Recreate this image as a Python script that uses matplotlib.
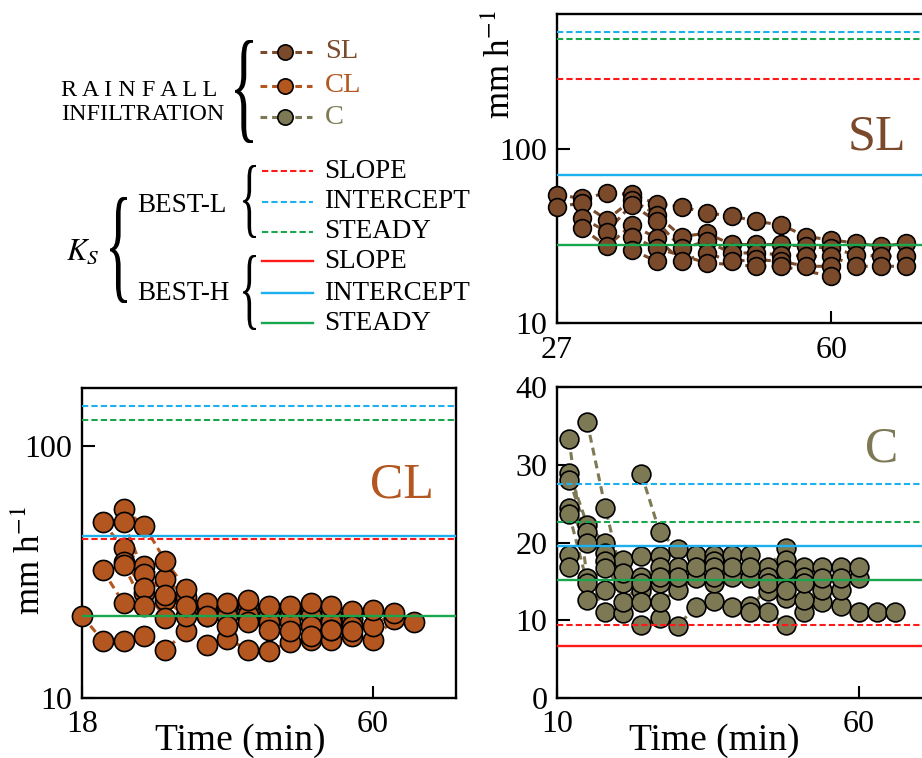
import matplotlib
matplotlib.use("Agg")
import matplotlib.pyplot as plt
from matplotlib.textpath import TextPath
from matplotlib.font_manager import FontProperties
from matplotlib.patches import PathPatch
from matplotlib.transforms import Affine2D
from matplotlib.ticker import NullLocator

plt.rcParams["font.family"] = ["Liberation Serif", "DejaVu Serif"]
plt.rcParams["mathtext.fontset"] = "stix"

# ---- data ----
SL_COLOR = "#7a4a2b"
CL_COLOR = "#b3561f"
C_COLOR = "#7e7955"

ks_names = ["SLOPE", "INTERCEPT", "STEADY"]
ks_colors = ["#ff1a1a", "#1cb0ee", "#1aa64f"]

# SL (sandy loam), mm/h
sl_t = [
    [27, 30, 33, 36, 39, 42, 45, 48, 51, 54, 57, 60, 63, 66, 69],
    [27, 30, 33, 36, 39, 42, 45, 48, 51, 54, 57, 60, 63, 66, 69],
    [30, 33, 36, 39, 42, 45, 48, 51, 54, 57, 60, 63, 66, 69],
    [30, 33, 36, 39, 42, 45, 48, 51, 54, 57, 60],
    [36, 39, 45, 51, 54, 60],
    [36, 39],
]
sl_v = [
    [54.6, 52.2, 55.8, 55.0, 48.5, 46.8, 42.9, 41.4, 38.4, 36.7, 31.4, 30.1, 28.8, 27.6, 28.8],
    [46.8, 48.9, 39.3, 51.0, 42.0, 31.4, 32.9, 28.3, 28.3, 28.3, 27.6, 26.9, 24.7, 24.2, 24.2],
    [40.1, 33.6, 48.0, 38.4, 26.9, 29.5, 25.3, 25.3, 24.7, 24.2, 24.2, 21.2, 21.2, 21.2],
    [35.1, 27.6, 36.7, 30.8, 22.6, 25.3, 22.6, 23.2, 22.6, 21.2, 21.2],
    [31.4, 26.9, 22.2, 21.2, 21.2, 18.6],
    [26.4, 22.6],
]
sl_best_l = [252, 470, 428]
sl_best_h = [None, 71, 28]

# CL (clay loam)
cl_t = [
    [18, 21, 24, 27, 30, 33, 36, 39, 42, 45, 48, 51, 54, 57, 60, 63, 66],
    [21, 24, 27, 30, 33, 36, 39, 42, 45, 48, 51, 54, 57, 60, 63],
    [21, 24, 27, 30, 33, 36, 39, 42, 45, 48, 51, 54, 57, 60],
    [24, 27, 30, 33, 36, 39, 42, 45, 48, 51, 54, 57],
    [24, 27, 30, 33, 36, 39, 42, 45, 48, 51, 54, 57],
    [24, 27, 30],
    [24, 27],
    [51, 54, 57],
]
cl_v = [
    [21.2, 16.9, 16.9, 17.7, 15.5, 18.4, 16.3, 17.2, 15.5, 15.4, 16.7, 17.0, 17.0, 17.6, 17.0, 20.5, 20.0],
    [49.8, 39.3, 33.3, 29.7, 25.2, 22.7, 22.7, 23.1, 21.4, 22.2, 22.4, 21.4, 21.4, 19.3, 21.8],
    [32.1, 23.8, 26.1, 24.5, 21.1, 21.1, 21.1, 21.4, 20.1, 20.1, 21.1, 20.1, 20.5, 22.4],
    [56.2, 48.3, 35.1, 27.2, 23.8, 23.8, 24.6, 23.1, 23.1, 23.8, 23.1, 22.2],
    [49.8, 31.2, 25.7, 23.1, 21.1, 19.3, 20.1, 18.7, 18.4, 19.3, 18.7, 19.3],
    [34.8, 27.3, 20.7],
    [33.8, 23.1],
    [17.7, 18.7, 18.4],
]
cl_best_l = [42.8, 143.6, 126.4]
cl_best_h = [None, 43.8, 21.2]

# C (clay)
c_t = [
    [12, 15, 18, 21, 24, 27, 30, 33, 36, 39, 42, 45, 48, 51, 54, 57, 60, 63, 66],
    [15, 18, 21, 24, 27, 30, 33, 36, 39, 42, 45, 48, 51, 54, 57, 60],
    [24, 27, 30, 33, 36, 39, 42, 45, 48, 51, 54, 57, 60],
    [12, 15, 18, 21, 24, 27, 30, 33, 36, 39, 42, 45, 48, 51, 54, 57],
    [12, 15, 18, 21, 24, 27, 30],
    [12, 15, 18, 21, 24, 27],
    [12, 15, 18],
    [12, 15, 18],
    [12],
    [24, 27],
    [36, 36],
    [42, 45, 48, 51],
    [48, 48],
]
c_v = [
    [33.3, 15.4, 11.0, 10.9, 9.4, 10.3, 9.3, 11.7, 12.5, 11.7, 11.8, 11.0, 9.4, 11.0, 12.4, 11.8, 11.0, 11.0, 11.0],
    [35.5, 24.5, 14.8, 13.7, 12.4, 13.9, 15.4, 14.8, 15.6, 15.4, 13.7, 12.8, 12.6, 13.9, 13.9, 15.4],
    [28.8, 21.4, 19.1, 18.4, 18.4, 18.4, 18.4, 16.9, 19.3, 16.9, 16.9, 16.9, 16.9],
    [29.0, 22.3, 19.9, 17.8, 18.2, 18.2, 16.9, 16.9, 17.6, 16.9, 16.9, 15.6, 17.8, 15.6, 15.4, 15.4],
    [28.1, 21.4, 18.6, 16.1, 15.6, 16.9, 15.6],
    [24.5, 19.9, 17.6, 12.4, 14.8, 14.8],
    [23.7, 14.8, 16.7],
    [18.4, 12.6, 13.9],
    [16.9],
    [12.4, 15.6],
    [16.9, 15.6],
    [11.1, 14.8, 14.8, 14.8],
    [16.5, 13.9],
]
c_best_l = [9.4, 27.5, 22.7]
c_best_h = [6.7, 19.5, 15.2]

rain_labels = ["SL", "CL", "C"]
rain_colors = [SL_COLOR, CL_COLOR, C_COLOR]

W, H = 922, 758
fig = plt.figure(figsize=(W / 100, H / 100), dpi=100)


def px_axes(left, top, right, bottom, **kw):
    return fig.add_axes([left / W, 1 - bottom / H, (right - left) / W, (bottom - top) / H], **kw)


def draw_panel(ax, ts, vs, color, ms, best_l, best_h):
    for t, v in zip(ts, vs):
        ax.plot(t, v, color=color, lw=2.2, ls=(0, (2.6, 1.7)), zorder=2)
    for t, v in zip(ts, vs):
        ax.plot(t, v, ls="none", marker="o", ms=ms, mfc=color, mec="black",
                mew=1.2, zorder=3, clip_on=False)
    for val, c in zip(best_l, ks_colors):
        if val is not None:
            ax.axhline(val, color=c, lw=1.5, ls=(0, (3, 1.5)), zorder=4)
    for val, c in zip(best_h, ks_colors):
        if val is not None:
            ax.axhline(val, color=c, lw=1.7, zorder=4)


def style_axes(ax, xticks, yticks):
    ax.set_xticks(xticks)
    ax.set_xticklabels([str(x) for x in xticks])
    ax.set_yticks(yticks)
    ax.set_yticklabels([str(y) for y in yticks])
    ax.xaxis.set_minor_locator(NullLocator())
    ax.yaxis.set_minor_locator(NullLocator())
    ax.tick_params(direction="in", length=9, width=1.5, labelsize=23,
                   top=False, right=False)
    ax.tick_params(axis="x", pad=9)
    ax.tick_params(axis="y", pad=7)
    for s in ax.spines.values():
        s.set_linewidth(1.7)


# SL panel
ax_sl = px_axes(557, 14, 931, 323)
ax_sl.set_yscale("log")
draw_panel(ax_sl, sl_t, sl_v, SL_COLOR, 12.8, sl_best_l, sl_best_h)
ax_sl.set_xlim(27, 72)
ax_sl.set_ylim(10, 600)
style_axes(ax_sl, [27, 60], [10, 100])
ax_sl.text(0.856, 0.60, "SL", transform=ax_sl.transAxes, color=SL_COLOR,
           fontsize=36, ha="center", va="center")
ax_sl.text(-0.15, 0.835, "mm h$^{-1}$", transform=ax_sl.transAxes, rotation=90,
           fontsize=25, ha="center", va="center")

# CL panel
ax_cl = px_axes(82, 388, 456, 698)
ax_cl.set_yscale("log")
draw_panel(ax_cl, cl_t, cl_v, CL_COLOR, 14.5, cl_best_l, cl_best_h)
ax_cl.set_xlim(18, 72)
ax_cl.set_ylim(10, 170)
style_axes(ax_cl, [18, 60], [10, 100])
ax_cl.text(0.856, 0.687, "CL", transform=ax_cl.transAxes, color=CL_COLOR,
           fontsize=36, ha="center", va="center")
ax_cl.text(-0.136, 0.445, "mm h$^{-1}$", transform=ax_cl.transAxes, rotation=90,
           fontsize=25, ha="center", va="center")
ax_cl.text(0.422, -0.168, "Time (min)", transform=ax_cl.transAxes,
           fontsize=27, ha="center", va="baseline")

# C panel
ax_c = px_axes(557, 387, 931, 698)
draw_panel(ax_c, c_t, c_v, C_COLOR, 13.5, c_best_l, c_best_h)
ax_c.set_xlim(10, 72)
ax_c.set_ylim(0, 40)
style_axes(ax_c, [10, 60], [0, 10, 20, 30, 40])
ax_c.text(0.869, 0.80, "C", transform=ax_c.transAxes, color=C_COLOR,
          fontsize=36, ha="center", va="center")
ax_c.text(0.421, -0.168, "Time (min)", transform=ax_c.transAxes,
          fontsize=27, ha="center", va="baseline")

# ---- legend drawn in pixel space ----
lg = fig.add_axes([0, 0, 1, 1], zorder=-1)
lg.set_xlim(0, W)
lg.set_ylim(H, 0)
lg.axis("off")


def brace(ax, x0, x1, y0, y1):
    tp = TextPath((0, 0), "{", size=1, prop=FontProperties(family="Liberation Serif"))
    ext = tp.get_extents()
    tr = (Affine2D().translate(-ext.x0, -ext.y1)
          .scale((x1 - x0) / ext.width, -(y1 - y0) / ext.height)
          .translate(x0, y0))
    ax.add_patch(PathPatch(tr.transform_path(tp), facecolor="black", edgecolor="none"))


lg.text(61, 91, "R A I N F A L L", fontsize=17.5, ha="left", va="center")
lg.text(61, 114, "INFILTRATION", fontsize=17.5, ha="left", va="center")
brace(lg, 235, 253, 40, 143)
for y, lab, col in zip([52, 86, 117], rain_labels, rain_colors):
    lg.plot([260, 312], [y, y], color=col, lw=2.2, ls=(0, (2.2, 1.6)))
    lg.plot([285], [y], marker="o", ms=11, mfc=col, mec="black", mew=1.2)
    lg.text(325, y, lab, color=col, fontsize=20.5, ha="left", va="center")

lg.text(83, 252, "$K_S$", fontsize=22, ha="center", va="center")
brace(lg, 110, 127, 197, 303)
lg.text(137, 205, "BEST-L", fontsize=19.5, ha="left", va="center")
lg.text(137, 293, "BEST-H", fontsize=19.5, ha="left", va="center")
brace(lg, 243, 256, 165, 238)
brace(lg, 243, 256, 255, 330)
for i, (name, col) in enumerate(zip(ks_names, ks_colors)):
    yl = [171, 202, 232][i]
    yh = [261, 293, 323][i]
    lg.plot([262, 313], [yl, yl], color=col, lw=1.5, ls=(0, (3, 1.5)))
    lg.text(324, yl, name, fontsize=19.5, ha="left", va="center")
    lg.plot([262, 313], [yh, yh], color=col, lw=1.7)
    lg.text(324, yh, name, fontsize=19.5, ha="left", va="center")

fig.savefig("out.png", dpi=100)
